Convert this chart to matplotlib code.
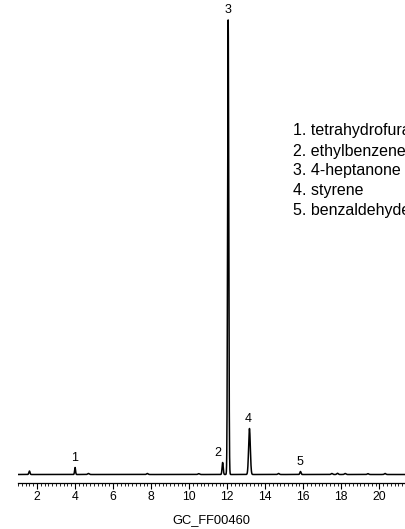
import numpy as np
import matplotlib
matplotlib.use('Agg')
import matplotlib.pyplot as plt
from matplotlib.ticker import MultipleLocator

# peaks (retention time in min, height, width)
peak_times = [1.6, 4.0, 4.7, 7.8, 10.5, 11.76, 12.05, 13.17, 14.7, 15.85, 17.5, 17.8, 18.2, 19.4, 20.3]
peak_heights = [3.5, 7.0, 1.0, 1.0, 0.8, 12.0, 455.0, 46.0, 1.0, 3.0, 1.0, 1.2, 1.0, 0.8, 1.0]
peak_widths = [0.03, 0.025, 0.04, 0.04, 0.04, 0.03, 0.03, 0.045, 0.04, 0.03, 0.04, 0.04, 0.04, 0.04, 0.04]

label_names = ['1', '2', '3', '4', '5']
label_times = [4.0, 11.5, 12.05, 13.1, 15.85]
label_heights = [7.0, 12.0, 455.0, 46.0, 3.0]

compounds = ['1. tetrahydrofuran', '2. ethylbenzene', '3. 4-heptanone', '4. styrene', '5. benzaldehyde']

t = np.linspace(1.0, 21.5, 6000)
signal = np.zeros_like(t) + 0.5
for pt, ph, pw in zip(peak_times, peak_heights, peak_widths):
    signal += ph * np.exp(-0.5 * ((t - pt) / pw) ** 2)

fam = ['Liberation Sans', 'DejaVu Sans']

fig = plt.figure(figsize=(4.06, 5.29), dpi=100)
ax = fig.add_axes([18 / 406, 46 / 529, 1 - 18 / 406, 1 - 46 / 529])
ax.plot(t, signal, color='black', lw=1.1)

for name, lt, lh in zip(label_names, label_times, label_heights):
    ax.annotate(name, (lt, lh), xytext=(0, 3), textcoords='offset points',
                ha='center', va='bottom', fontsize=9, family=fam)

ax.set_xlim(1.0, 21.4)
ax.set_ylim(-8, 475)
for s in ['left', 'right', 'top']:
    ax.spines[s].set_visible(False)
ax.spines['bottom'].set_linewidth(0.9)
ax.set_yticks([])
ax.xaxis.set_major_locator(MultipleLocator(2))
ax.xaxis.set_minor_locator(MultipleLocator(0.2))
ax.tick_params(axis='x', which='major', direction='out', length=4, width=0.8, labelsize=8.8, pad=2)
ax.tick_params(axis='x', which='minor', direction='out', length=2, width=0.6)
for lab in ax.get_xticklabels():
    lab.set_family(fam)

fig.text(211 / 406, 1 - 520 / 529, 'GC_FF00460', ha='center', va='center',
         fontsize=9.3, family=fam)

# legend block runs past the right edge, as in the original figure
for i, c in enumerate(compounds):
    fig.text(293 / 406, 1 - (131 + 20 * i) / 529, c, ha='left', va='center',
             fontsize=11.5, family=fam)

fig.savefig('out.png', dpi=100)
